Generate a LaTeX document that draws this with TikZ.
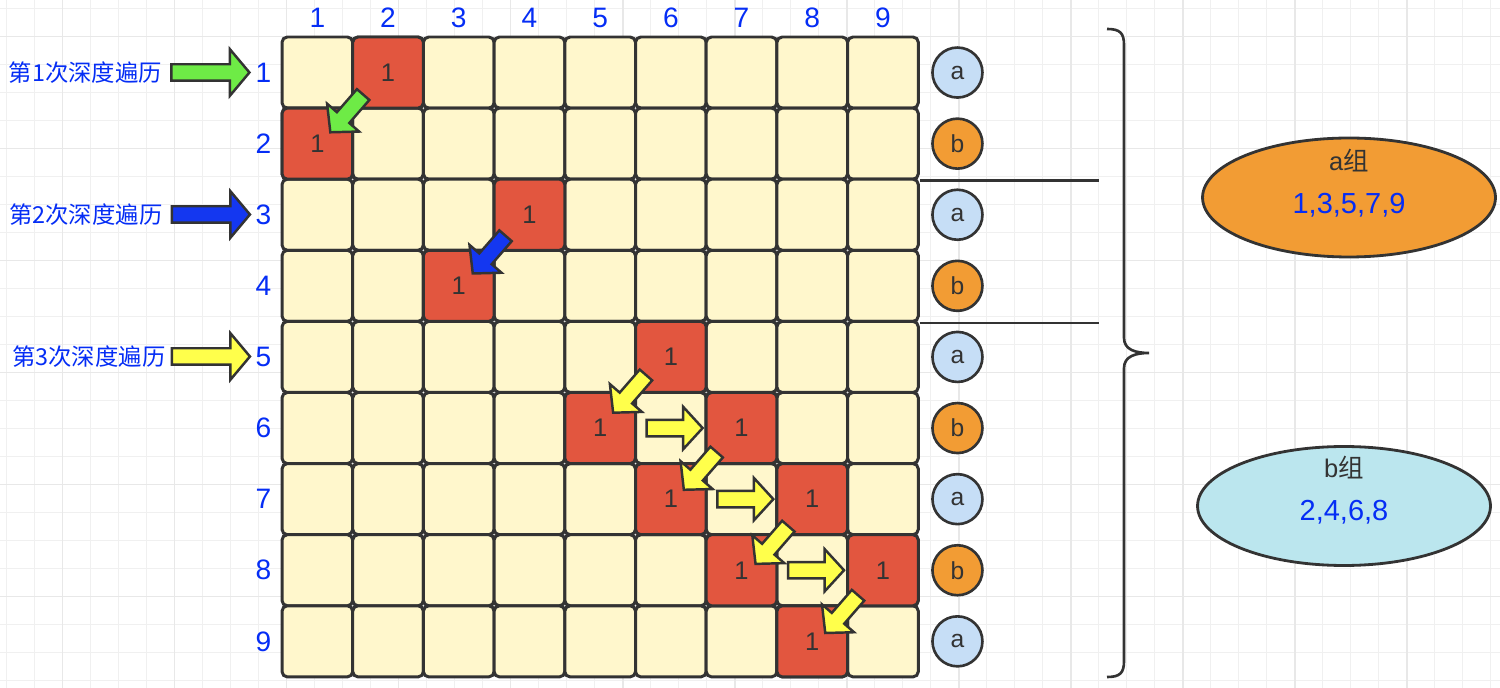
\documentclass[tikz,border=0pt]{standalone}
\usepackage{fontspec}
\setmainfont{Liberation Sans}
\newfontfamily\cjk{Noto Sans CJK SC}
\usetikzlibrary{positioning, calc, shapes.geometric, shapes.arrows}
\definecolor{cellBase}{RGB}{255,247,204}
\definecolor{cellHit}{RGB}{226, 86, 63}
\definecolor{edgeDark}{RGB}{ 51, 51, 51}
\definecolor{numBlue}{RGB}{  5, 45,245}
\definecolor{tagA}{RGB}{198,222,246}
\definecolor{tagB}{RGB}{242,156, 52}
\definecolor{groupB}{RGB}{187,230,238}
\definecolor{arrGreen}{RGB}{110,235, 70}
\definecolor{arrBlue}{RGB}{ 20, 55,240}
\definecolor{arrYellow}{RGB}{255,255, 75}
\definecolor{paperMinor}{RGB}{240,240,240}
\definecolor{paperMajor}{RGB}{232,232,232}
\tikzset{
    cell/.style={
        rounded corners=3pt, draw=edgeDark, fill=cellBase, line width=1.7pt,
        minimum width=1.414cm, minimum height=1.422cm, inner sep=0pt,
        font=\fontsize{14.5}{17}\selectfont, text=edgeDark
    },
    hit/.style={fill=cellHit},
    idx/.style={font=\fontsize{16}{19}\selectfont, text=numBlue, inner sep=0pt},
    rowtag/.style={
        circle, draw=edgeDark, line width=1.5pt, minimum size=1cm, inner sep=0pt,
        font=\fontsize{14}{16}\selectfont, text=edgeDark
    },
    steplabel/.style={font=\cjk\fontsize{13.3}{16}\selectfont, text=numBlue, inner sep=0pt},
    bigarrow/.style={
        single arrow, draw=edgeDark, line width=1.4pt, inner sep=0.14cm,
        minimum height=1.56cm, single arrow head extend=0.3cm, single arrow tip angle=100
    },
    hop/.style={
        single arrow, draw=edgeDark, line width=1.4pt, inner sep=0.14cm,
        minimum height=1.0cm, single arrow head extend=0.26cm, single arrow tip angle=95
    },
    groupoval/.style={ellipse, draw=edgeDark, line width=1.6pt, minimum width=5.86cm, minimum height=2.38cm},
    grouptitle/.style={font=\fontsize{14.5}{17}\selectfont, text=edgeDark},
    groupnums/.style={font=\fontsize{16.5}{19}\selectfont, text=numBlue},
    sepline/.style={draw=edgeDark, line width=1.5pt},
    paperline/.style={draw=paperMinor, line width=0.8pt},
    paperbold/.style={draw=paperMajor, line width=0.9pt}
}

\begin{document}
\begin{tikzpicture}[x=0.02cm, y=-0.02cm]
  \useasboundingbox (0,0) rectangle (1500,688);
  % paper grid
  \foreach \k in {0,...,53} \draw[paperline] ({6.7+28*\k},0) -- ++(0,688);
  \foreach \k in {0,...,24} \draw[paperline] (0,{8.3+28*\k}) -- ++(1500,0);
  \foreach \k in {0,...,12} \draw[paperbold] ({62.7+112*\k},0) -- ++(0,688);
  \foreach \k in {0,...,5} \draw[paperbold] (0,{36.3+112*\k}) -- ++(1500,0);

  % matrix
  \foreach \r in {1,...,9}
    \foreach \c in {1,...,9}
      \node[cell] (c\r\c) at ({282+70.7*(\c-0.5)}, {37+71.1*(\r-0.5)}) {};
  \foreach \r/\c in {1/2, 2/1, 3/4, 4/3, 5/6, 6/5, 6/7, 7/6, 7/8, 8/7, 8/9, 9/8}
    \node[cell, hit] (h\r\c) at (c\r\c) {1};
  \foreach \c in {1,...,9} \node[idx] (col\c) at ($(c1\c)+(0,-54.5)$) {\c};
  \foreach \r in {1,...,9} \node[idx] (row\r) at ($(c\r1)+(-54,0)$) {\r};
  \foreach \r/\t/\f in {1/a/tagA, 2/b/tagB, 3/a/tagA, 4/b/tagB, 5/a/tagA,
                        6/b/tagB, 7/a/tagA, 8/b/tagB, 9/a/tagA}
    \node[rowtag, fill=\f] (t\r) at ($(c\r9)+(74.5,0)$) {\t};

  % start arrows
  \node[bigarrow, fill=arrGreen] (s1) at (207,72.5) {};
  \node[bigarrow, fill=arrBlue] (s2) at (207.5,214.5) {};
  \node[bigarrow, fill=arrYellow] (s3) at (207.5,356.5) {};
  \node[steplabel, left=0.16cm of s1] (l1) {第1次深度遍历};
  \node[steplabel, left=0.16cm of s2] (l2) {第2次深度遍历};
  \node[steplabel, left=0.1cm of s3] (l3) {第3次深度遍历};

  % hops
  \node[hop, fill=arrGreen, rotate=229] (d1) at ($(h12.south west)+(-2,1)$) {};
  \node[hop, fill=arrBlue, rotate=229] (d2) at ($(h34.south west)+(-1,0)$) {};
  \node[hop, fill=arrYellow, rotate=229] (d3) at ($(h56.south west)+(-2,-3)$) {};
  \node[hop, fill=arrYellow, rotate=229] (d4) at ($(h67.south west)+(-2,3)$) {};
  \node[hop, fill=arrYellow, rotate=229] (d5) at ($(h78.south west)+(-1,6)$) {};
  \node[hop, fill=arrYellow, rotate=229] (d6) at ($(h89.south west)+(-2,4)$) {};
  \node[hop, fill=arrYellow, minimum height=1.12cm] (r1) at (c66) {};
  \node[hop, fill=arrYellow, minimum height=1.12cm] (r2) at (c77) {};
  \node[hop, fill=arrYellow, minimum height=1.12cm] (r3) at (c88) {};

  % separators
  \coordinate (e1) at ($(c29.south east)+(179,0)$);
  \coordinate (e2) at ($(c49.south east)+(179,0)$);
  \draw[sepline] (c29.south east) -- (e1);
  \draw[sepline] (c49.south east) -- (e2);

  % brace
  \draw[sepline] (1107,29) .. controls (1120,29) and (1124,33) .. (1124,45)
    -- (1124,338) .. controls (1124,350) and (1136,353) .. (1149,353)
    .. controls (1136,353) and (1124,356) .. (1124,368)
    -- (1124,661) .. controls (1124,673) and (1120,677) .. (1107,677);

  % groups
  \node[groupoval, fill=tagB] (ga) at (1349,197.5) {};
  \node[grouptitle] (gat) at ($(ga)+(0,-37)$) {a{\cjk 组}};
  \node[groupnums] (gan) at ($(ga)+(0,8)$) {1,3,5,7,9};
  \node[groupoval, fill=groupB] (gb) at (1344,506) {};
  \node[grouptitle] (gbt) at ($(gb)+(0,-38)$) {b{\cjk 组}};
  \node[groupnums] (gbn) at ($(gb)+(0,6)$) {2,4,6,8};
\end{tikzpicture}
\end{document}
